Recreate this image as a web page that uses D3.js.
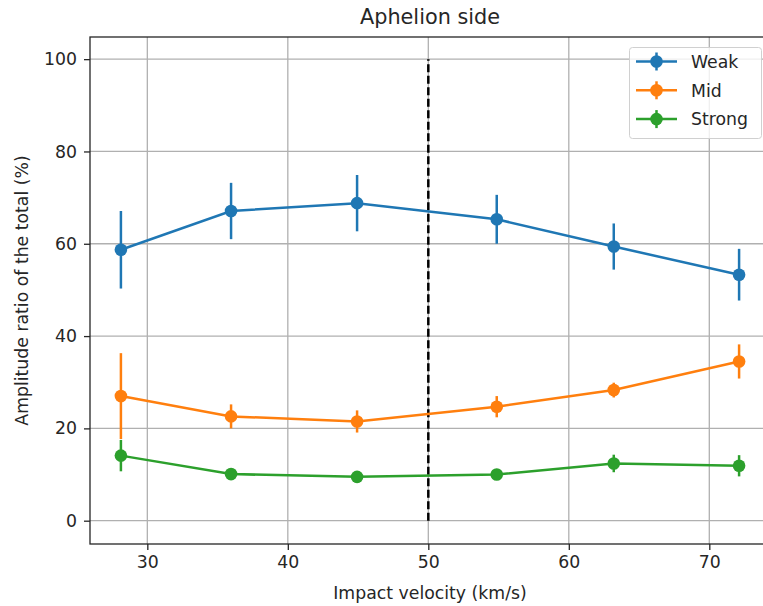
<!DOCTYPE html>
<html><head><meta charset="utf-8">
<script src="https://cdn.jsdelivr.net/npm/d3@7"></script>
<style>
html,body{margin:0;padding:0;background:#fff;overflow:hidden;}
text{font-family:"DejaVu Sans",sans-serif;fill:#262626;}
</style></head>
<body>
<svg id="c" width="763" height="606"></svg>
<script>
const velocities = [28.12, 35.96, 44.93, 54.87, 63.2, 72.12];
const seriesNames = ["Weak", "Mid", "Strong"];
const weakValues = [58.7, 67.1, 68.8, 65.3, 59.4, 53.3];
const weakErrors = [8.4, 6.1, 6.1, 5.3, 5.0, 5.6];
const midValues = [27.0, 22.6, 21.5, 24.7, 28.3, 34.5];
const midErrors = [9.3, 2.6, 2.4, 2.3, 1.6, 3.7];
const strongValues = [14.1, 10.1, 9.5, 10.0, 12.4, 11.9];
const strongErrors = [3.4, 1.0, 0.9, 0.9, 1.9, 2.3];
const seriesColors = ["#1f77b4", "#ff7f0e", "#2ca02c"];
const xTicks = [30, 40, 50, 60, 70];
const yTicks = [0, 20, 40, 60, 80, 100];
const thresholdVelocity = 50;
const thresholdRange = [0, 100];

const series = [
  {name: seriesNames[0], values: weakValues, errors: weakErrors, color: seriesColors[0]},
  {name: seriesNames[1], values: midValues, errors: midErrors, color: seriesColors[1]},
  {name: seriesNames[2], values: strongValues, errors: strongErrors, color: seriesColors[2]}
];

const FS = 17.3;
const svg = d3.select("#c");
const L = 90, R = 770, T = 37, B = 544;
const x = d3.scaleLinear().domain([25.92, 74.32]).range([L, R]);
const y = d3.scaleLinear().domain([-5.05, 104.8]).range([B, T]);

// grid
const g = svg.append("g");
g.selectAll(".gx").data(xTicks).enter().append("line")
  .attr("x1", d => x(d)).attr("x2", d => x(d)).attr("y1", T).attr("y2", B)
  .attr("stroke", "#b0b0b0").attr("stroke-width", 1.3);
g.selectAll(".gy").data(yTicks).enter().append("line")
  .attr("x1", L).attr("x2", R).attr("y1", d => y(d)).attr("y2", d => y(d))
  .attr("stroke", "#b0b0b0").attr("stroke-width", 1.3);

// threshold dashed line
svg.append("line")
  .attr("x1", x(thresholdVelocity)).attr("x2", x(thresholdVelocity))
  .attr("y1", y(thresholdRange[0])).attr("y2", y(thresholdRange[1]))
  .attr("stroke", "#000").attr("stroke-width", 2.5).attr("stroke-dasharray", "8,3.5");

// series
const line = d3.line().x(d => x(d[0])).y(d => y(d[1]));
series.forEach(s => {
  const pts = velocities.map((v, i) => [v, s.values[i], s.errors[i]]);
  const sg = svg.append("g");
  sg.selectAll(".eb").data(pts).enter().append("line")
    .attr("x1", d => x(d[0])).attr("x2", d => x(d[0]))
    .attr("y1", d => y(d[1] - d[2])).attr("y2", d => y(d[1] + d[2]))
    .attr("stroke", s.color).attr("stroke-width", 2.5);
  sg.append("path").attr("d", line(pts)).attr("fill", "none")
    .attr("stroke", s.color).attr("stroke-width", 2.5);
  sg.selectAll(".pt").data(pts).enter().append("circle")
    .attr("cx", d => x(d[0])).attr("cy", d => y(d[1])).attr("r", 6.3)
    .attr("fill", s.color);
});

// axes
const xAxis = svg.append("g").attr("transform", `translate(0,${B})`)
  .call(d3.axisBottom(x).tickValues(xTicks).tickSize(6).tickPadding(6));
const yAxis = svg.append("g").attr("transform", `translate(${L},0)`)
  .call(d3.axisLeft(y).tickValues(yTicks).tickSize(6).tickPadding(7));
[xAxis, yAxis].forEach(a => {
  a.attr("font-size", null).attr("font-family", null);
  a.select(".domain").remove();
  a.selectAll("line").attr("stroke", "#262626").attr("stroke-width", 1.3);
  a.selectAll("text").style("font-size", FS + "px").style("font-family", "DejaVu Sans").attr("fill", "#262626");
});
// spines
svg.append("rect").attr("x", L).attr("y", T).attr("width", R - L).attr("height", B - T)
  .attr("fill", "none").attr("stroke", "#262626").attr("stroke-width", 1.3);

// labels
svg.append("text").attr("x", (L + R) / 2).attr("y", 24).attr("text-anchor", "middle")
  .style("font-size", "20.8px").text("Aphelion side");
svg.append("text").attr("x", (L + R) / 2).attr("y", 599).attr("text-anchor", "middle")
  .style("font-size", FS + "px").text("Impact velocity (km/s)");
svg.append("text").attr("transform", `translate(28,${(T + B) / 2}) rotate(-90)`).attr("text-anchor", "middle")
  .style("font-size", FS + "px").text("Amplitude ratio of the total (%)");

// legend
const lg = svg.append("g");
lg.append("rect").attr("x", 629.5).attr("y", 47.5).attr("width", 132).attr("height", 91)
  .attr("rx", 3).attr("fill", "#fff").attr("fill-opacity", 0.8)
  .attr("stroke", "#d0d0d0").attr("stroke-width", 1);
series.forEach((s, i) => {
  const yy = 61.5 + i * 28.8;
  lg.append("line").attr("x1", 636).attr("x2", 677).attr("y1", yy).attr("y2", yy)
    .attr("stroke", s.color).attr("stroke-width", 2.5);
  lg.append("line").attr("x1", 656.5).attr("x2", 656.5).attr("y1", yy - 9).attr("y2", yy + 9)
    .attr("stroke", s.color).attr("stroke-width", 2.5);
  lg.append("circle").attr("cx", 656.5).attr("cy", yy).attr("r", 6.3).attr("fill", s.color);
  lg.append("text").attr("x", 691).attr("y", yy + 6.3).style("font-size", FS + "px").text(s.name);
});
</script>
</body></html>
